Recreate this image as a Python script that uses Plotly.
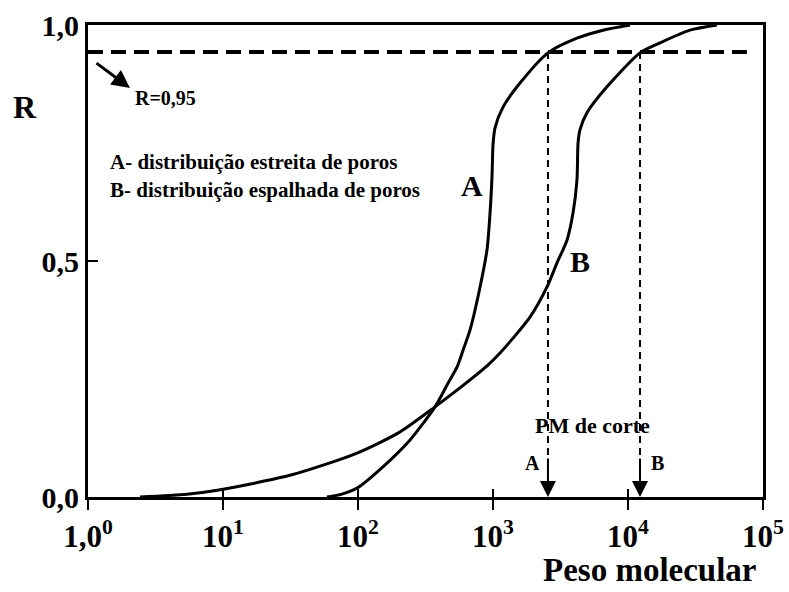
import numpy as np
import plotly.graph_objects as go

# ---- data ----
pm_A = [58.9, 76, 98.4, 153, 243, 372, 464, 541, 600, 676, 802, 904, 951, 984, 1000, 1035, 1186, 1585, 2553, 4188, 6531, 10350]
r_A = [0.000, 0.006, 0.019, 0.064, 0.121, 0.191, 0.241, 0.275, 0.311, 0.354, 0.445, 0.525, 0.602, 0.682, 0.746, 0.782, 0.826, 0.877, 0.941, 0.972, 0.989, 1.000]

pm_B = [2.43, 5.41, 9.33, 32.4, 98.4, 205, 372, 506, 904, 1127, 1879, 2512, 2979, 3532, 3917, 4188, 4266, 4406, 4966, 6982, 12274, 17258, 28774, 45604]
r_B = [0.000, 0.006, 0.015, 0.047, 0.093, 0.138, 0.191, 0.220, 0.278, 0.305, 0.381, 0.445, 0.496, 0.544, 0.602, 0.672, 0.750, 0.778, 0.814, 0.869, 0.941, 0.962, 0.989, 1.000]

r_cut = 0.943          # R = 0,95 line
cut_A = 2553           # PM de corte A
cut_B = 12274          # PM de corte B
dash_end = 76000

x_tickvals = [1, 10, 100, 1000, 10000, 100000]
x_ticktext = ["1,0<sup>0</sup>", "10<sup>1</sup>", "10<sup>2</sup>", "10<sup>3</sup>", "10<sup>4</sup>", "10<sup>5</sup>"]
y_tickvals = [0, 0.5, 1.0]
y_ticktext = ["0,0", "0,5", "1,0"]

FONT = "Liberation Serif"
BLACK = "#000000"

fig = go.Figure()

fig.add_trace(go.Scatter(x=pm_A, y=r_A, mode="lines", line=dict(color=BLACK, width=3, shape="spline", smoothing=0.7), hoverinfo="skip"))
fig.add_trace(go.Scatter(x=pm_B, y=r_B, mode="lines", line=dict(color=BLACK, width=3, shape="spline", smoothing=0.7), hoverinfo="skip"))

# horizontal dashed R line
fig.add_trace(go.Scatter(x=[1, dash_end], y=[r_cut, r_cut], mode="lines",
                         line=dict(color=BLACK, width=4, dash="15px,8px"), hoverinfo="skip"))
# vertical dashed cut-off lines
for c in (cut_A, cut_B):
    fig.add_trace(go.Scatter(x=[c, c], y=[r_cut, 0.085], mode="lines",
                             line=dict(color=BLACK, width=2, dash="7px,5px"), hoverinfo="skip"))

# invisible trace for the second x axis (inner ticks)
fig.add_trace(go.Scatter(x=[1, 100000], y=[0, 0], mode="lines", line=dict(width=0),
                         xaxis="x2", yaxis="y", hoverinfo="skip", showlegend=False))

bold = dict(family=FONT, color=BLACK, weight="bold")

annotations = [
    dict(xref="paper", yref="paper", x=-0.0933, y=0.826, text="R", showarrow=False,
         font=dict(size=32, **bold), xanchor="center", yanchor="middle"),
    dict(xref="paper", yref="paper", x=0.8326, y=-0.1547, text="Peso molecular", showarrow=False,
         font=dict(size=33, **bold), xanchor="center", yanchor="middle"),
    dict(xref="paper", yref="paper", x=0.0296, y=0.7097, text="A- distribuição estreita de poros", showarrow=False,
         font=dict(size=21, **bold), xanchor="left", yanchor="middle"),
    dict(xref="paper", yref="paper", x=0.0296, y=0.6504, text="B- distribuição espalhada de poros", showarrow=False,
         font=dict(size=21, **bold), xanchor="left", yanchor="middle"),
    dict(xref="paper", yref="paper", x=0.0667, y=0.8453, text="R=0,95", showarrow=False,
         font=dict(size=20, **bold), xanchor="left", yanchor="middle"),
    dict(xref="paper", yref="paper", x=0.0622, y=0.8665, text="", showarrow=True,
         ax=-35, ay=-26, arrowhead=2, arrowsize=1.2, arrowwidth=3, arrowcolor=BLACK, standoff=0),
    dict(xref="paper", yref="paper", x=0.748, y=0.1525, text="PM de corte", showarrow=False,
         font=dict(size=22, **bold), xanchor="center", yanchor="middle"),
    dict(xref="paper", yref="paper", x=0.6578, y=0.072, text="A", showarrow=False,
         font=dict(size=20, **bold), xanchor="center", yanchor="middle"),
    dict(xref="paper", yref="paper", x=0.8444, y=0.072, text="B", showarrow=False,
         font=dict(size=20, **bold), xanchor="center", yanchor="middle"),
    dict(xref="paper", yref="paper", x=0.5689, y=0.659, text="A", showarrow=False,
         font=dict(size=30, **bold), xanchor="center", yanchor="middle"),
    dict(xref="paper", yref="paper", x=0.7289, y=0.4979, text="B", showarrow=False,
         font=dict(size=30, **bold), xanchor="center", yanchor="middle"),
]
for c in (cut_A, cut_B):
    annotations.append(dict(xref="x", yref="y", x=np.log10(c), y=0, text="", showarrow=True,
                            ax=0, ay=-40, arrowhead=2, arrowsize=1.6, arrowwidth=2,
                            arrowcolor=BLACK, standoff=0))

fig.update_layout(
    width=789, height=592,
    margin=dict(l=88, r=26, t=25, b=95, autoexpand=False),
    paper_bgcolor="white", plot_bgcolor="white",
    showlegend=False,
    annotations=annotations,
    xaxis=dict(type="log", range=[0, 5], tickvals=x_tickvals, ticktext=x_ticktext,
               ticks="outside", ticklen=10, tickwidth=1.5, tickcolor=BLACK,
               showline=True, linewidth=3, linecolor=BLACK, mirror=True,
               showgrid=False, zeroline=False, automargin=False,
               tickfont=dict(size=31, **bold)),
    xaxis2=dict(type="log", range=[0, 5], overlaying="x", anchor="y", side="bottom",
                tickvals=[10, 100, 1000, 10000], ticks="inside", ticklen=8, tickwidth=1.5,
                tickcolor=BLACK, showticklabels=False, showline=False, showgrid=False,
                zeroline=False, automargin=False),
    yaxis=dict(range=[0, 1], tickvals=y_tickvals, ticktext=y_ticktext,
               ticks="inside", ticklen=10, tickwidth=1.5, tickcolor=BLACK,
               showline=True, linewidth=3, linecolor=BLACK, mirror=True,
               showgrid=False, zeroline=False, automargin=False,
               tickfont=dict(size=30, **bold)),
)

fig.write_html("out.html")
